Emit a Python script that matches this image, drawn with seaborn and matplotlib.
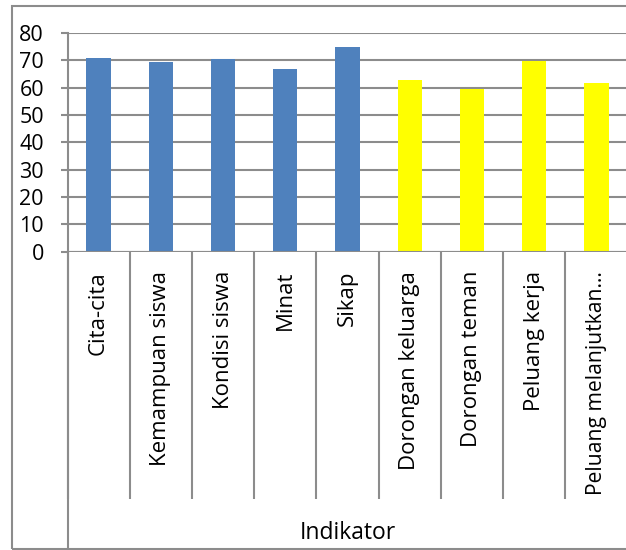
import matplotlib
matplotlib.use("Agg")
import matplotlib.pyplot as plt
import seaborn as sns
import pandas as pd
from matplotlib.lines import Line2D
from matplotlib.patches import Rectangle

categories = ["Cita-cita", "Kemampuan siswa", "Kondisi siswa", "Minat", "Sikap",
              "Dorongan keluarga", "Dorongan teman", "Peluang kerja", "Peluang melanjutkan…"]
values = [70.7, 69.5, 70.5, 67.0, 75.0, 62.8, 59.4, 69.7, 61.7]
groups = ["A", "A", "A", "A", "A", "B", "B", "B", "B"]
colors = {"A": "#4F81BD", "B": "#FFFF00"}
y_ticks = [0, 10, 20, 30, 40, 50, 60, 70, 80]
x_title = "Indikator"

sns.set_theme(style="white")
plt.rcParams['font.family'] = ['Open Sans', 'DejaVu Sans']

W, H = 626, 550
fig = plt.figure(figsize=(W / 100, H / 100), dpi=100)
left, right, top, bottom = 67.5, 627.5, 33, 251.5
ax = fig.add_axes([left / W, 1 - bottom / H, (right - left) / W, (bottom - top) / H])

df = pd.DataFrame({"cat": categories, "val": values, "grp": groups})
sns.barplot(data=df, x="cat", y="val", hue="grp", palette=colors, dodge=False,
            width=0.39, legend=False, ax=ax, saturation=1, edgecolor="none")

ax.set_ylim(0, 80)
ax.set_xlim(-0.5, len(categories) - 0.5)
ax.set_yticks(y_ticks)
ax.set_yticklabels([str(v) for v in y_ticks], fontsize=15.5, color="black")
ax.yaxis.grid(True, color="#8c8c8c", linewidth=1.5)
ax.set_axisbelow(True)
for s in ["top", "right", "bottom"]:
    ax.spines[s].set_visible(False)
ax.spines["left"].set_color("#8c8c8c")
ax.spines["left"].set_linewidth(1.5)
ax.tick_params(axis="y", which="major", length=5, width=1.5, color="#8c8c8c",
               pad=12, left=True)

# x tick labels at category centres
ax.set_xticks(range(len(categories)))
ax.set_xticklabels(categories, rotation=90, fontsize=16, color="black", va="top")
ax.get_xticklabels()[-1].set_fontsize(15.2)
ax.tick_params(axis="x", which="major", length=0, pad=14)
# separators between categories as long minor ticks
ax.set_xticks([i - 0.5 for i in range(len(categories) + 1)], minor=True)
ax.tick_params(axis="x", which="minor", length=247 * 0.72, width=1.5,
               color="#8c8c8c", direction="out", bottom=True)
ax.axhline(0, color="#8c8c8c", linewidth=1.5, zorder=3)

# extended left line down to frame
ax.add_line(Line2D([-0.5, -0.5], [0, -(H - bottom) / (bottom - top)],
                   transform=ax.get_xaxis_transform(), color="#8c8c8c",
                   linewidth=1.5, clip_on=False))

ax.set_xlabel(x_title, fontsize=16.5, color="black")
ax.xaxis.set_label_coords(0.5, -(533 - bottom) / (bottom - top))
ax.xaxis.label.set_va("center")
ax.set_ylabel("")

# outer chart frame
fig.patches.append(Rectangle((11.5 / W, 1 / H), 1, 1 - 7 / H, transform=fig.transFigure,
                             fill=False, edgecolor="#8c8c8c", linewidth=1.5))

fig.savefig("out.png", dpi=100)
